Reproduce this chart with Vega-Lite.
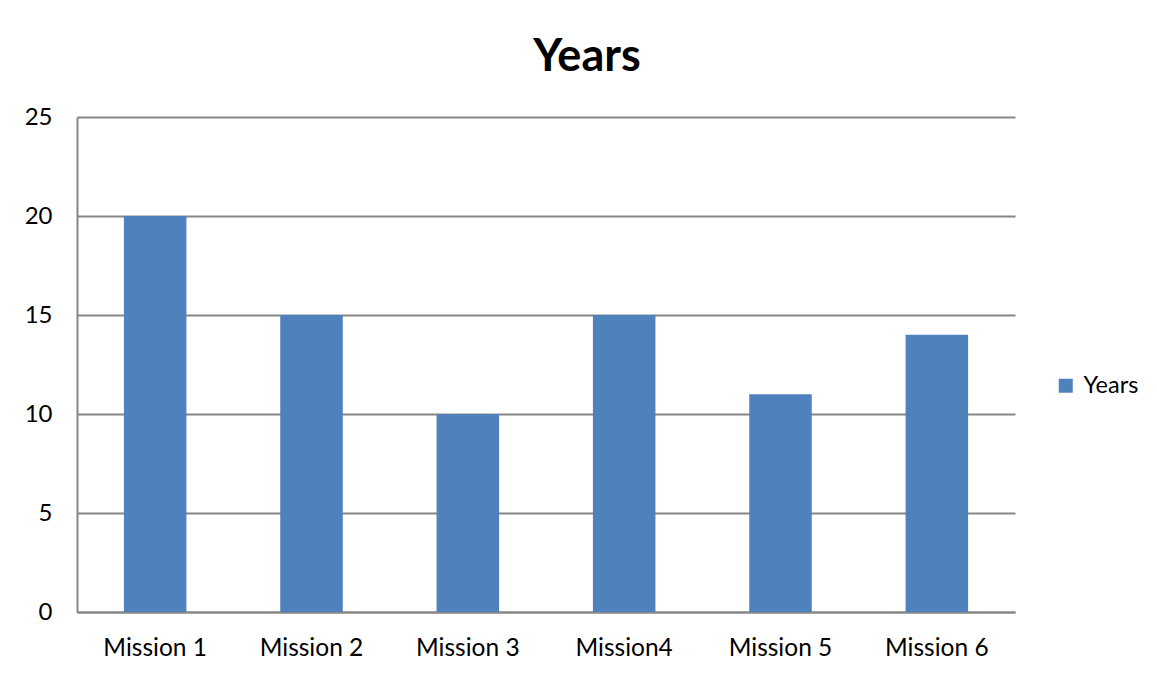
{
  "$schema": "https://vega.github.io/schema/vega-lite/v6.json",
  "width": 938,
  "height": 495,
  "autosize": {"type": "none"},
  "padding": {"left": 77, "top": 117, "right": 142, "bottom": 65},
  "background": "white",
  "title": {
    "text": "Years",
    "font": "Lato",
    "fontSize": 45,
    "fontWeight": "bold",
    "color": "#000000",
    "anchor": "middle",
    "frame": "group",
    "dx": 41,
    "baseline": "alphabetic",
    "offset": -11
  },
  "data": {
    "values": [
      {"mission": "Mission 1", "years": 20, "series": "Years"},
      {"mission": "Mission 2", "years": 15, "series": "Years"},
      {"mission": "Mission 3", "years": 10, "series": "Years"},
      {"mission": "Mission4", "years": 15, "series": "Years"},
      {"mission": "Mission 5", "years": 11, "series": "Years"},
      {"mission": "Mission 6", "years": 14, "series": "Years"}
    ]
  },
  "mark": {"type": "bar"},
  "encoding": {
    "x": {
      "field": "mission",
      "type": "nominal",
      "sort": null,
      "scale": {"paddingInner": 0.6, "paddingOuter": 0.3},
      "axis": {
        "title": null,
        "labelAngle": 0,
        "labelFont": "Lato",
        "labelFontSize": 24.5,
        "labelColor": "#000000",
        "labelPadding": 24,
        "ticks": false,
        "domainColor": "#868686",
        "domainWidth": 2
      }
    },
    "y": {
      "field": "years",
      "type": "quantitative",
      "scale": {"domain": [0, 25]},
      "axis": {
        "title": null,
        "values": [0, 5, 10, 15, 20, 25],
        "labelFont": "Lato",
        "labelFontSize": 24,
        "labelColor": "#000000",
        "labelPadding": 25,
        "ticks": false,
        "domainColor": "#868686",
        "domainWidth": 2,
        "gridColor": "#868686",
        "gridWidth": 2
      }
    },
    "color": {
      "field": "series",
      "type": "nominal",
      "scale": {"range": ["#4F81BD"]},
      "legend": {
        "title": null,
        "orient": "none",
        "legendX": 977,
        "legendY": 257,
        "symbolType": "square",
        "symbolSize": 196,
        "symbolStrokeWidth": 0,
        "labelFont": "Lato",
        "labelFontSize": 23.5,
        "labelColor": "#000000",
        "labelOffset": 6
      }
    }
  },
  "config": {
    "view": {"stroke": null}
  }
}
